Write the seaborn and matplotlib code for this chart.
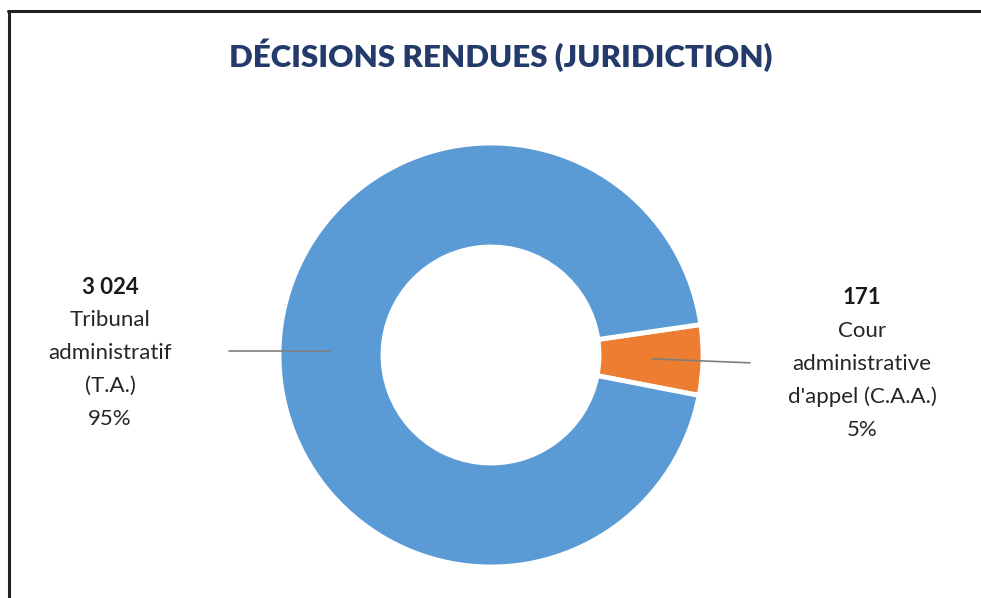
import matplotlib

matplotlib.use("Agg")
import matplotlib.pyplot as plt
import numpy as np
import seaborn as sns

# %% Data
categories = ["Tribunal\nadministratif\n(T.A.)", "Cour\nadministrative\nd'appel (C.A.A.)"]
values = [3024, 171]
colors = ["#5B9BD5", "#ED7D31"]
title = "DÉCISIONS RENDUES (JURIDICTION)"

# %% Style
sns.set_theme(style="white")
plt.rcParams["font.family"] = ["Lato", "DejaVu Sans"]

W, H = 981, 598
fig = plt.figure(figsize=(W / 100, H / 100), dpi=100)
ax = fig.add_axes([0, 0, 1, 1])

# pixel-like coordinates (y measured upward)
cx, cy, R = 491, H - 355, 212
order = [1, 0]  # CAA first so it sits on the right
wedges, _ = ax.pie(
    [values[i] for i in order],
    colors=[colors[i] for i in order],
    startangle=-11,
    counterclock=True,
    radius=R,
    center=(cx, cy),
    wedgeprops=dict(width=R - 108, edgecolor="white", linewidth=3.5),
)
ax.set_xlim(0, W)
ax.set_ylim(0, H)
ax.set_aspect("equal")
ax.axis("off")

total = sum(values)
label_x = {0: 110, 1: 862}
label_top = {0: 287, 1: 298}
line_end = {0: 229, 1: 750}
for w, i in zip(wedges, order):
    mid = np.deg2rad((w.theta1 + w.theta2) / 2)
    px, py = cx + 0.76 * R * np.cos(mid), cy + 0.76 * R * np.sin(mid)
    ey = py if i == 0 else py - 4
    ax.plot([px, line_end[i]], [py, ey], color="#7f7f7f", lw=1.2)
    lines = [f"{values[i]:,}".replace(",", " ")] + categories[i].split("\n") + [
        f"{values[i] / total:.0%}"
    ]
    for k, txt in enumerate(lines):
        ax.text(
            label_x[i],
            H - (label_top[i] + 33 * k),
            txt,
            ha="center",
            va="center",
            fontsize=16,
            fontweight="bold" if k == 0 else "normal",
            color="#1a1a1a" if k == 0 else "#262626",
        )

ax.text(501, H - 55, title, ha="center", va="center", fontsize=22.5,
        fontweight="heavy", color="#243A6B")

# outer frame (top and left edges)
ax.plot([8, W], [H - 11, H - 11], color="#222222", lw=2.2, clip_on=False)
ax.plot([9, 9], [H - 11, 0], color="#222222", lw=2.2, clip_on=False)

plt.savefig("out.png", dpi=100)
plt.close()
